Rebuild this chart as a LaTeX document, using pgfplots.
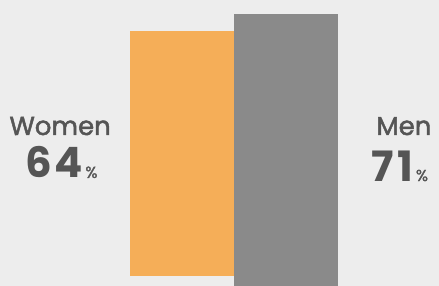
\documentclass[border=0pt]{standalone}
\usepackage{pgfplots}
\pgfplotsset{compat=1.18}
\usepackage{fontspec}
\setmainfont{Poppins}
\newfontfamily\medfont{Poppins}[FakeBold=1.8]
\definecolor{bg}{HTML}{EDEDED}
\definecolor{orangebar}{HTML}{F5AE58}
\definecolor{graybar}{HTML}{8A8A8A}
\definecolor{txt}{HTML}{555555}
\begin{document}
\begin{tikzpicture}
\begin{axis}[
  width=439bp, height=286bp, scale only axis,
  axis lines=none, ticks=none,
  xmin=-1.75, xmax=2.471,
  ymin=0, ymax=74.65,
  ybar stacked, bar width=1, bar shift=0pt,
  clip=true,
  axis background/.style={fill=bg},
]
\addplot[draw=none, fill=none] coordinates {(0,2.6) (1,0)};
\addplot[draw=none, fill=orangebar] coordinates {(0,64) (1,0)};
\addplot[draw=none, fill=graybar] coordinates {(0,0) (1,71)};
\node[anchor=base, text=txt, font=\fontsize{26}{28}\selectfont\medfont] at (rel axis cs:0.137,0.528) {Women};
\node[anchor=base, text=txt, inner sep=0pt] at (rel axis cs:0.140,0.378) {\fontsize{42}{44}\selectfont\bfseries 6\kern2bp 4\fontsize{16}{18}\selectfont\mdseries\medfont\kern3bp\%};
\node[anchor=base, text=txt, font=\fontsize{26}{28}\selectfont\medfont] at (rel axis cs:0.920,0.528) {Men};
\node[anchor=base, text=txt, inner sep=0pt] at (rel axis cs:0.911,0.367) {\fontsize{42}{44}\selectfont\bfseries 7\kern3bp 1\fontsize{16}{18}\selectfont\mdseries\medfont\kern3bp\%};
\end{axis}
\end{tikzpicture}
\end{document}
